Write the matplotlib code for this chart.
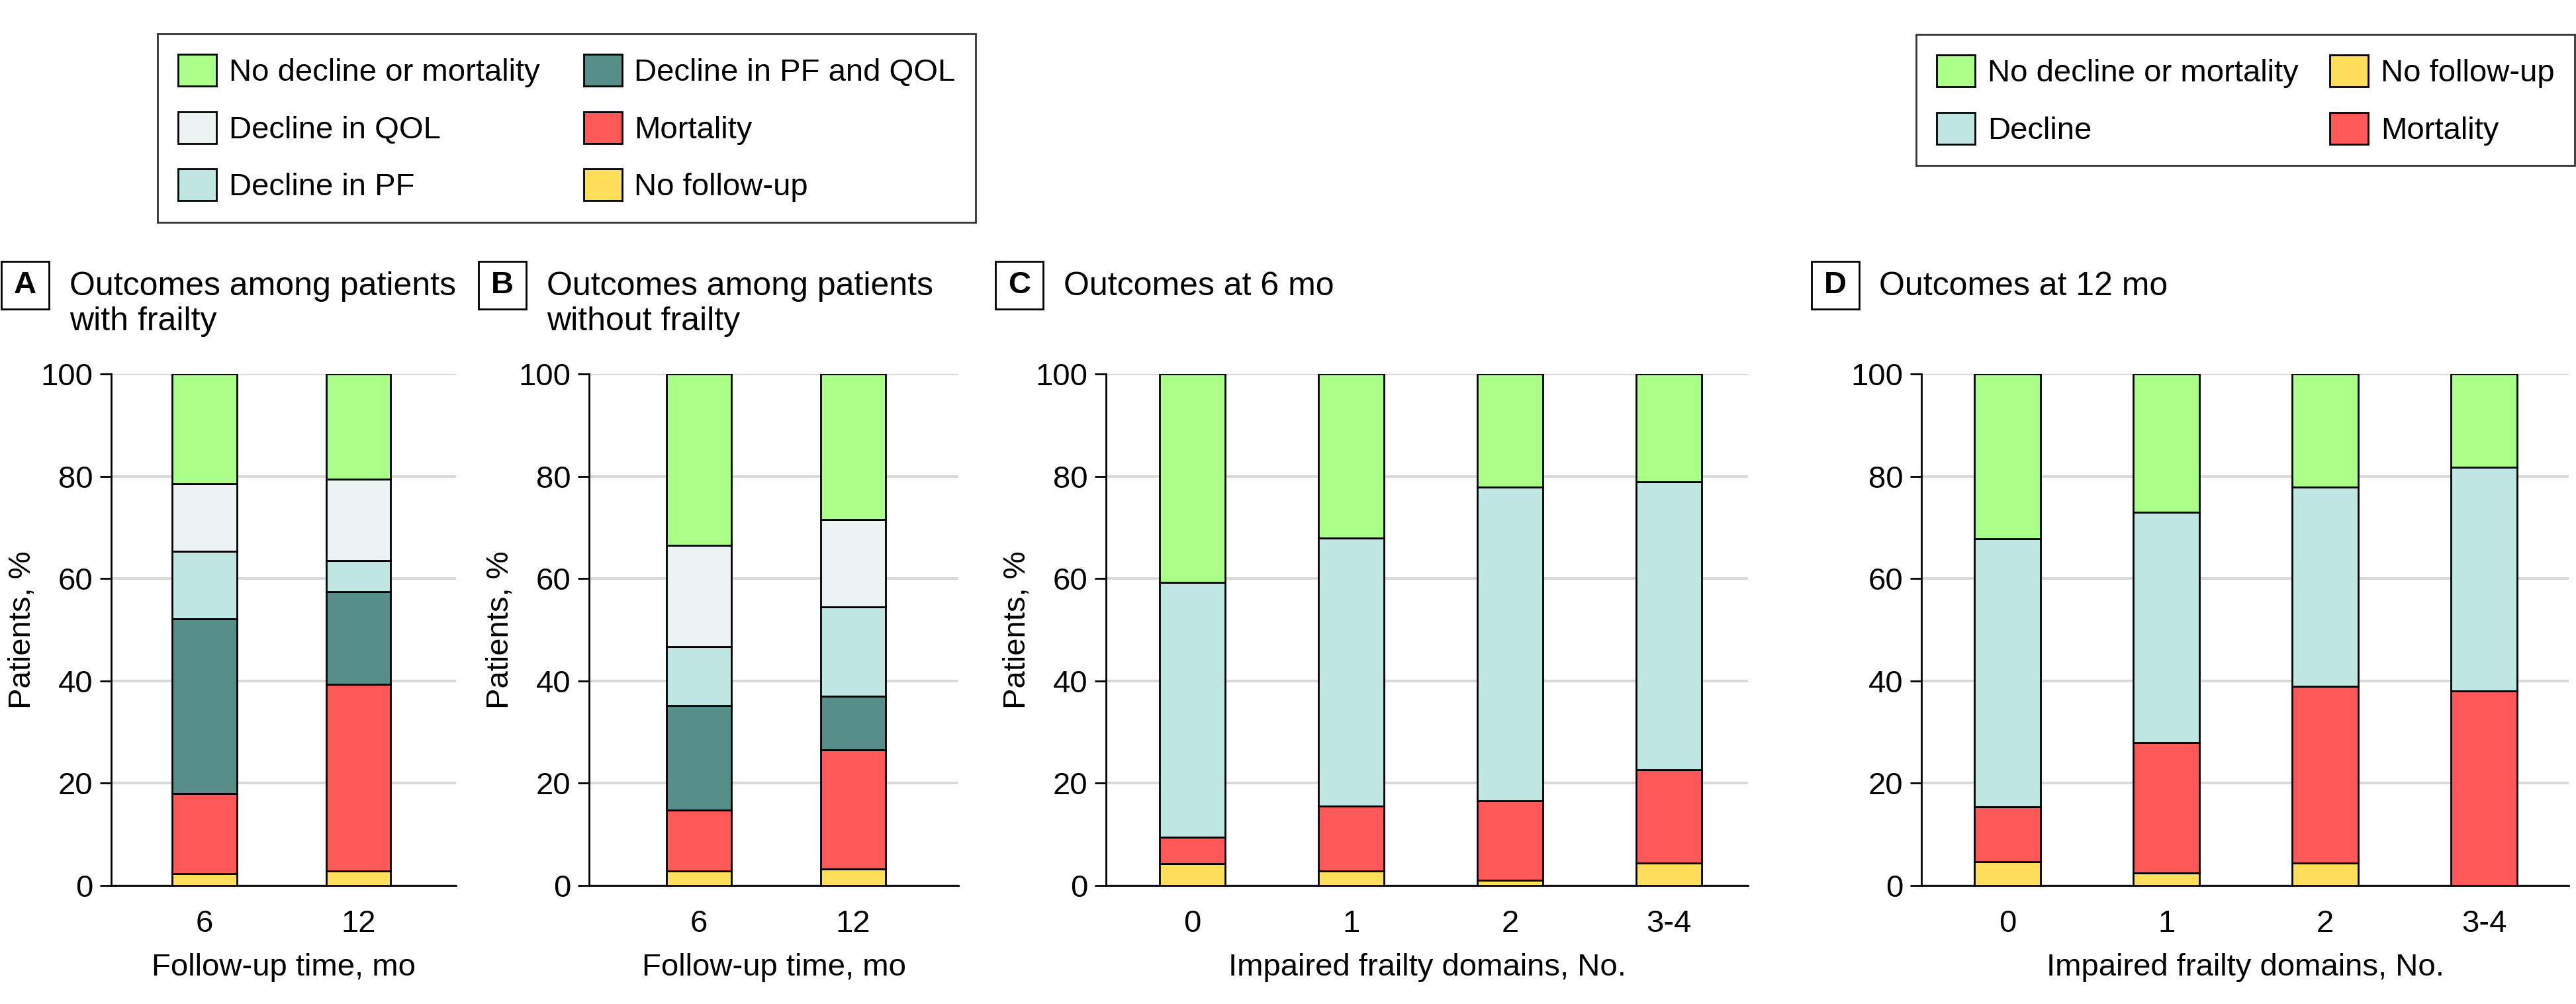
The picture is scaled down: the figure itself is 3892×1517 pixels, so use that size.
import matplotlib
matplotlib.use("Agg")
import matplotlib.pyplot as plt
from matplotlib.patches import Patch, Rectangle

plt.rcParams['font.family'] = ['Liberation Sans', 'DejaVu Sans']

# colours
c_none = '#AAFF88'
c_qol = '#EBF3F3'
c_pf = '#C0E6E4'
c_both = '#588E8A'
c_mort = '#FF5858'
c_nofu = '#FFDE5C'

# panels A / B: follow-up time
followup = ['6', '12']
a_nofu = [2.3, 2.9]
a_mort = [15.7, 36.4]
a_both = [34.1, 18.2]
a_pf = [13.2, 6.0]
a_qol = [13.2, 15.9]
a_none = [21.5, 20.6]

b_nofu = [2.9, 3.2]
b_mort = [11.8, 23.3]
b_both = [20.5, 10.5]
b_pf = [11.5, 17.5]
b_qol = [19.8, 17.0]
b_none = [33.5, 28.5]

# panels C / D: impaired frailty domains
domains = ['0', '1', '2', '3-4']
c_nofu_v = [4.3, 2.9, 1.0, 4.4]
c_mort_v = [5.1, 12.6, 15.5, 18.2]
c_decl_v = [49.8, 52.4, 61.4, 56.3]
c_none_v = [40.8, 32.1, 22.1, 21.1]

d_nofu_v = [4.7, 2.4, 4.4, 0.0]
d_mort_v = [10.7, 25.5, 34.5, 38.0]
d_decl_v = [52.4, 45.0, 39.0, 43.7]
d_none_v = [32.2, 27.1, 22.1, 18.3]

W, H = 3892, 1517
DPI = 200
fig = plt.figure(figsize=(W / DPI, H / DPI), dpi=DPI)

FS = 17
y0_px, y100_px = 1338, 565


def make_ax(left_px, right_px):
    return fig.add_axes([left_px / W, 1 - y0_px / H,
                         (right_px - left_px) / W, (y0_px - y100_px) / H])


def stack(ax, cats, segs, colors, width, xlim, xlabel, ylabel=True):
    x = list(range(len(cats)))
    bottom = [0.0] * len(cats)
    for vals, col in zip(segs, colors):
        ax.bar(x, vals, width, bottom=bottom, color=col, edgecolor='black',
               linewidth=1.0, zorder=3)
        bottom = [b + v for b, v in zip(bottom, vals)]
    ax.set_xlim(*xlim)
    ax.set_ylim(0, 100)
    ax.set_yticks([0, 20, 40, 60, 80, 100])
    ax.set_xticks(x)
    ax.set_xticklabels(cats)
    ax.tick_params(axis='x', length=0, pad=13, labelsize=FS)
    ax.tick_params(axis='y', length=6, width=1.0, pad=4, labelsize=FS)
    ax.spines['top'].set_visible(False)
    ax.spines['right'].set_visible(False)
    ax.spines['left'].set_linewidth(1.0)
    ax.spines['bottom'].set_linewidth(1.0)
    ax.yaxis.grid(True, color='#D9D9D9', linewidth=1.4)
    ax.set_axisbelow(True)
    ax.set_xlabel(xlabel, fontsize=FS, labelpad=8)
    if ylabel:
        ax.set_ylabel('Patients, %', fontsize=FS, labelpad=2)


six = [c_nofu, c_mort, c_both, c_pf, c_qol, c_none]
four = [c_nofu, c_mort, c_pf, c_none]

axA = make_ax(168, 689)
stack(axA, followup, [a_nofu, a_mort, a_both, a_pf, a_qol, a_none], six,
      0.42, (-0.606, 1.634), 'Follow-up time, mo')
axB = make_ax(890, 1448)
stack(axB, followup, [b_nofu, b_mort, b_both, b_pf, b_qol, b_none], six,
      0.42, (-0.712, 1.682), 'Follow-up time, mo')
axC = make_ax(1671, 2641)
stack(axC, domains, [c_nofu_v, c_mort_v, c_decl_v, c_none_v], four,
      0.41, (-0.544, 3.498), 'Impaired frailty domains, No.')
axD = make_ax(2903, 3881)
stack(axD, domains, [d_nofu_v, d_mort_v, d_decl_v, d_none_v], four,
      0.415, (-0.542, 3.533), 'Impaired frailty domains, No.', ylabel=False)

# panel letters and titles
panels = [('A', 2, 105, 'Outcomes among patients\nwith frailty'),
          ('B', 723, 826, 'Outcomes among patients\nwithout frailty'),
          ('C', 1504, 1607, 'Outcomes at 6 mo'),
          ('D', 2737, 2839, 'Outcomes at 12 mo')]
for letter, bx, tx, title in panels:
    fig.add_artist(Rectangle((bx / W, 1 - 467 / H), 72 / W, 72 / H,
                             transform=fig.transFigure, facecolor='white',
                             edgecolor='black', linewidth=1.0))
    fig.text((bx + 36) / W, 1 - 431 / H, letter, ha='center', va='center',
             fontsize=FS, fontweight='bold')
    fig.text(tx / W, 1 - 410 / H, title, ha='left', va='top', fontsize=18,
             linespacing=1.2)

# legends
def handle(col):
    return Patch(facecolor=col, edgecolor='black', linewidth=1.0)

leg1 = fig.legend([handle(c_none), handle(c_qol), handle(c_pf),
                   handle(c_both), handle(c_mort), handle(c_nofu)],
                  ['No decline or mortality', 'Decline in QOL', 'Decline in PF',
                   'Decline in PF and QOL', 'Mortality', 'No follow-up'],
                  ncol=2, loc='upper left', bbox_to_anchor=(238 / W, 1 - 51 / H),
                  fontsize=FS, frameon=True, fancybox=False, borderpad=0.65,
                  handlelength=1.23, handleheight=1.19, handletextpad=0.4,
                  labelspacing=0.78, columnspacing=1.4, borderaxespad=0)
leg1.get_frame().set_edgecolor('black')
leg1.get_frame().set_linewidth(1.0)

leg2 = fig.legend([handle(c_none), handle(c_pf), handle(c_nofu), handle(c_mort)],
                  ['No decline or mortality', 'Decline', 'No follow-up', 'Mortality'],
                  ncol=2, loc='upper right', bbox_to_anchor=(1 - 2 / W, 1 - 52 / H),
                  fontsize=FS, frameon=True, fancybox=False, borderpad=0.65,
                  handlelength=1.23, handleheight=1.19, handletextpad=0.4,
                  labelspacing=0.78, columnspacing=1.0, borderaxespad=0)
leg2.get_frame().set_edgecolor('black')
leg2.get_frame().set_linewidth(1.0)

fig.savefig('out.png', dpi=DPI, facecolor='white')
